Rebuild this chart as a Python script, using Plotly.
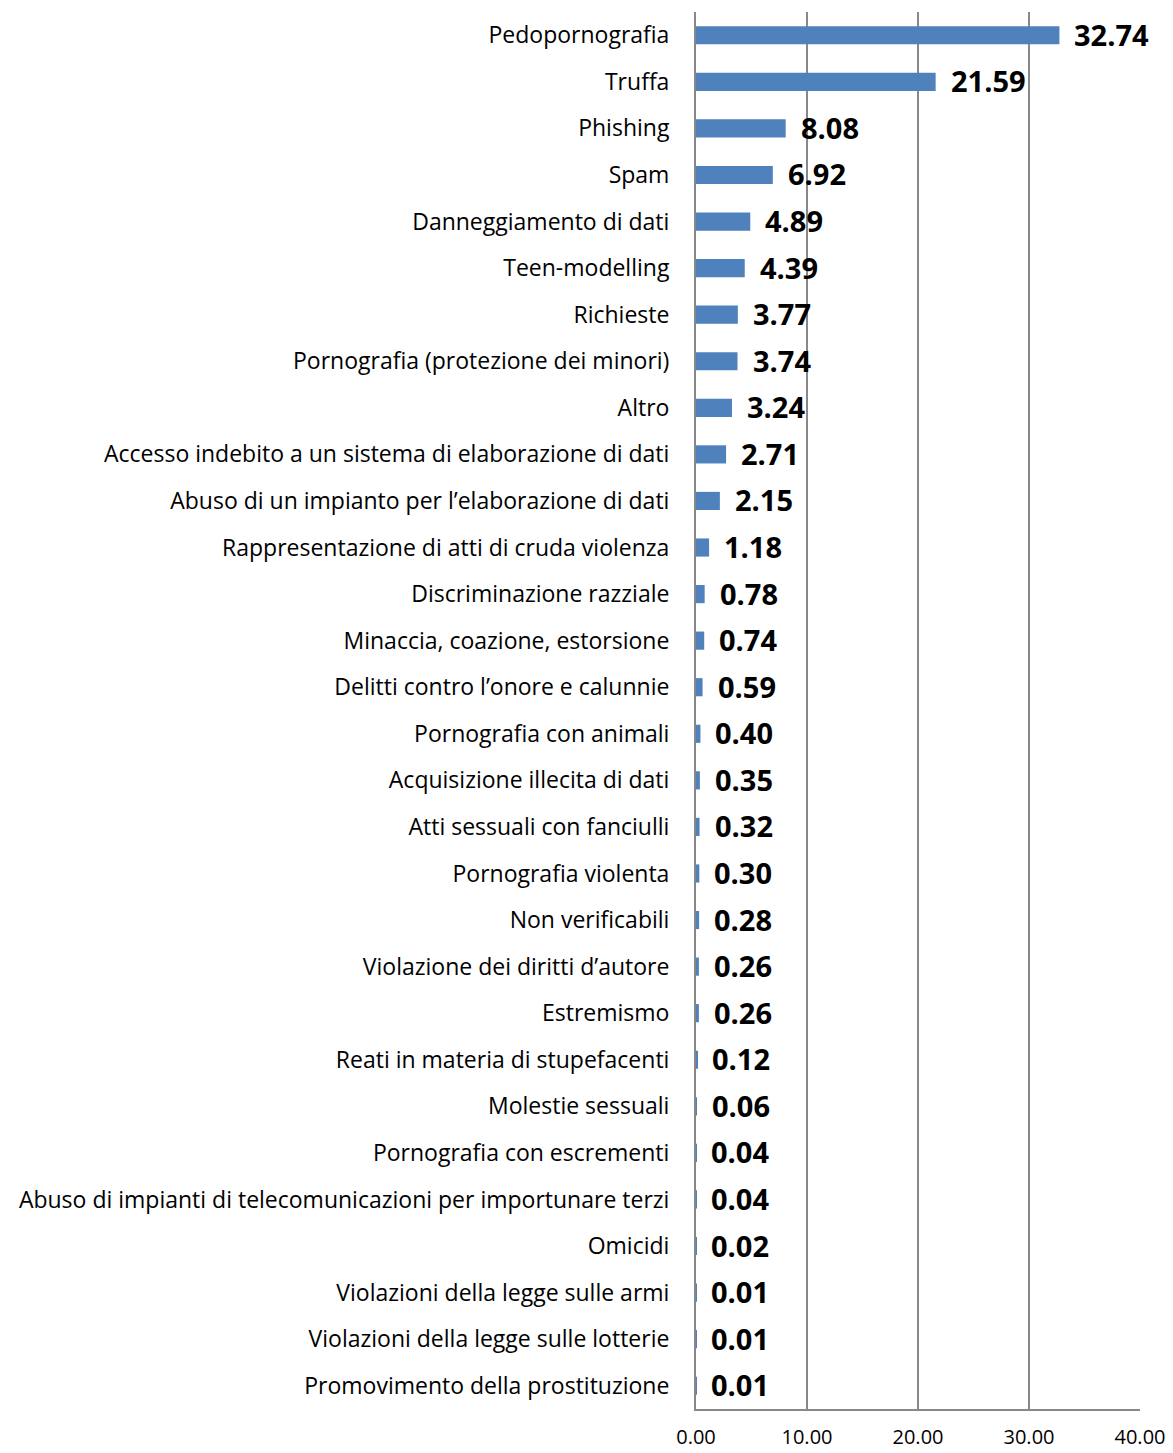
import plotly.graph_objects as go

categories = [
    "Pedopornografia",
    "Truffa",
    "Phishing",
    "Spam",
    "Danneggiamento di dati",
    "Teen-modelling",
    "Richieste",
    "Pornografia (protezione dei minori)",
    "Altro",
    "Accesso indebito a un sistema di elaborazione di dati",
    "Abuso di un impianto per l’elaborazione di dati",
    "Rappresentazione di atti di cruda violenza",
    "Discriminazione razziale",
    "Minaccia, coazione, estorsione",
    "Delitti contro l’onore e calunnie",
    "Pornografia con animali",
    "Acquisizione illecita di dati",
    "Atti sessuali con fanciulli",
    "Pornografia violenta",
    "Non verificabili",
    "Violazione dei diritti d’autore",
    "Estremismo",
    "Reati in materia di stupefacenti",
    "Molestie sessuali",
    "Pornografia con escrementi",
    "Abuso di impianti di telecomunicazioni per importunare terzi",
    "Omicidi",
    "Violazioni della legge sulle armi",
    "Violazioni della legge sulle lotterie",
    "Promovimento della prostituzione",
]

values = [
    32.74, 21.59, 8.08, 6.92, 4.89, 4.39, 3.77, 3.74, 3.24, 2.71,
    2.15, 1.18, 0.78, 0.74, 0.59, 0.40, 0.35, 0.32, 0.30, 0.28,
    0.26, 0.26, 0.12, 0.06, 0.04, 0.04, 0.02, 0.01, 0.01, 0.01,
]

x_ticks = [0, 10, 20, 30, 40]
x_tick_labels = ["0.00", "10.00", "20.00", "30.00", "40.00"]

FONT = "Open Sans"
GRID = "#888888"

fig = go.Figure()
fig.add_trace(go.Bar(
    x=values,
    y=categories,
    orientation="h",
    marker=dict(color="#4F81BD", line=dict(width=0)),
    width=0.39,
    hoverinfo="x+y",
))

# value labels to the right of each bar
for cat, val in zip(categories, values):
    fig.add_annotation(
        x=val, y=cat, text=f"<b>{val:.2f}</b>",
        xanchor="left", yanchor="middle", xshift=13, yshift=1, showarrow=False,
        font=dict(family=FONT, size=29, color="#000000"),
    )

fig.update_layout(
    width=1173, height=1453,
    margin=dict(l=696, r=33, t=12, b=44),
    plot_bgcolor="white", paper_bgcolor="white",
    showlegend=False,
    font=dict(family=FONT, size=23, color="#000000"),
)
fig.update_xaxes(
    range=[0, 40], tickvals=x_ticks, ticktext=x_tick_labels,
    showgrid=True, gridcolor=GRID, gridwidth=2,
    showline=True, linecolor=GRID, linewidth=2,
    zeroline=False, ticks="", ticklabelstandoff=9, automargin=False,
    tickfont=dict(family=FONT, size=20, color="#000000"),
)
fig.update_yaxes(
    categoryorder="array", categoryarray=categories[::-1],
    showgrid=False, showline=True, linecolor=GRID, linewidth=2,
    ticks="", ticklabelstandoff=20, automargin=False,
    tickfont=dict(family=FONT, size=23, color="#000000"),
)

fig.write_html("out.html")
